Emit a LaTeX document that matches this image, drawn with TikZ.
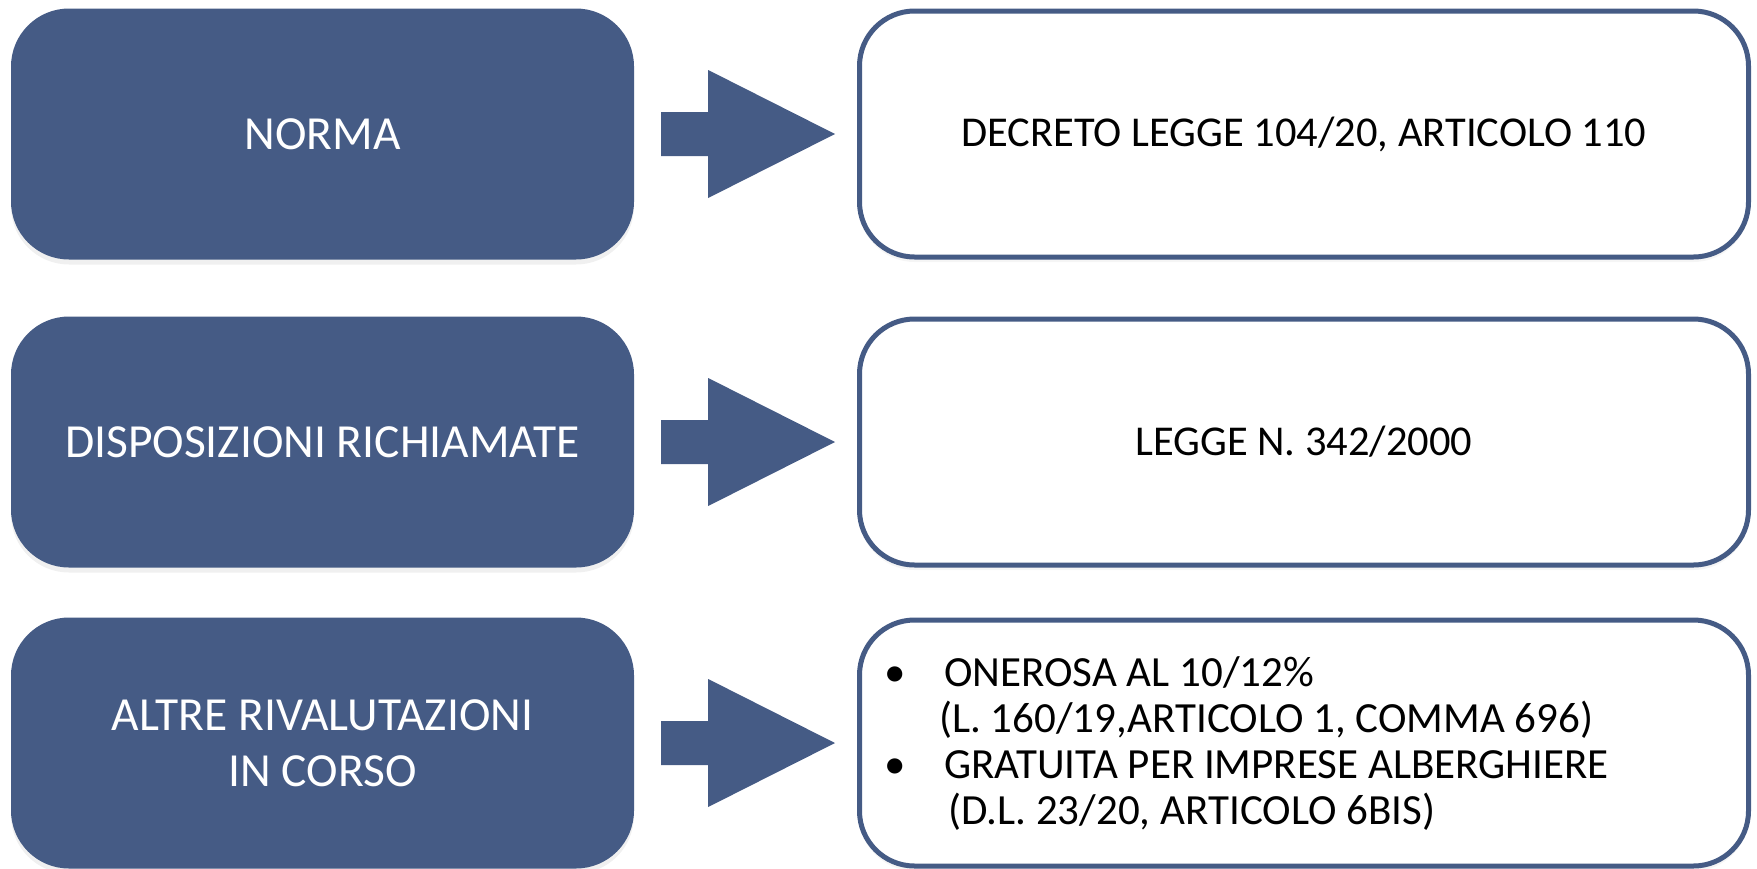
\documentclass[tikz,border=0pt]{standalone}
\usepackage{fontspec}
\setmainfont{Carlito}
\usepackage{xcolor}
\usepackage{tikz}
\usetikzlibrary{calc,shadows}
\definecolor{normblue}{HTML}{455B85}

\begin{document}
\begin{tikzpicture}[
  x=1pt, y=1pt,
  leftbox/.style={rectangle, rounded corners=58pt, fill=normblue, text=white, minimum width=623pt, minimum height=251pt, inner sep=0pt, align=center, font=\fontsize{47.5}{56}\selectfont, drop shadow={shadow xshift=0pt, shadow yshift=-5pt, opacity=0.12}},
  rightbox/.style={rectangle, rounded corners=55pt, draw=normblue, line width=5pt, fill=white, minimum width=889pt, minimum height=246pt, inner sep=0pt, align=center, font=\fontsize{42.5}{50}\selectfont, drop shadow={shadow xshift=0pt, shadow yshift=-5pt, opacity=0.08}},
  listtxt/.style={inner sep=0pt, align=left, font=\fontsize{43}{46}\selectfont},
  blockarr/.style={fill=normblue},
]
% Page: 1 px of the slide -> 1 pt
\useasboundingbox (0,0) rectangle (1757,-868);

% Rows: topic (left, filled), arrow, content (right, outlined)
\foreach \i/\yy/\lbl/\txt in {%
  1/134/{NORMA}/{DECRETO LEGGE 104/20, ARTICOLO 110},
  2/442/{DISPOSIZIONI RICHIAMATE}/{LEGGE N. 342/2000},
  3/743/{ALTRE RIVALUTAZIONI\\IN CORSO}/{}%
} {
  \node[leftbox] (L\i) at (322.5,-\yy) {\lbl};
  \node[rightbox] (R\i) at (1304,-\yy) {\txt};
  \fill[blockarr] ($(L\i.east)+(27,22)$) -- ($(L\i.east)+(74,22)$) -- ($(L\i.east)+(74,64)$)
    -- ($(L\i.east -| R\i.west)+(-22,0)$)
    -- ($(L\i.east)+(74,-64)$) -- ($(L\i.east)+(74,-22)$) -- ($(L\i.east)+(27,-22)$) -- cycle;
}

% Bullet list of the last row
\node[listtxt, anchor=west] (R3list) at ($(R3.west)+(27,-1)$) {%
  \makebox[60pt][l]{\textbullet}ONEROSA AL 10/12\%\\
  \hspace*{55pt}(L. 160/19,ARTICOLO 1, COMMA 696)\\
  \makebox[60pt][l]{\textbullet}GRATUITA PER IMPRESE ALBERGHIERE\\
  \hspace*{64pt}(D.L. 23/20, ARTICOLO 6BIS)};
\end{tikzpicture}
\end{document}
